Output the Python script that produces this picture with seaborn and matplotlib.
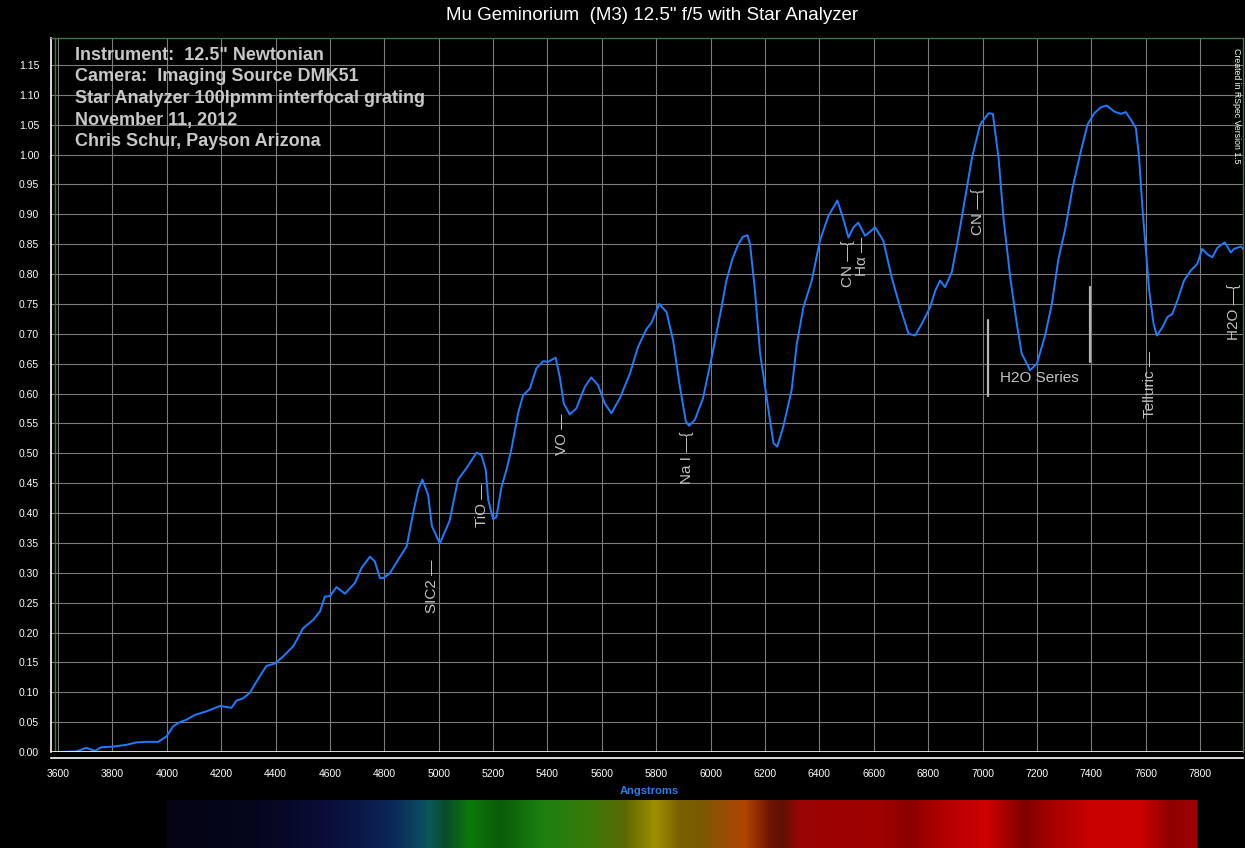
import numpy as np
import pandas as pd
import matplotlib
matplotlib.use('Agg')
import matplotlib.pyplot as plt
import seaborn as sns
from matplotlib.colors import to_rgb

# spectrum (Angstrom, relative flux)
wavelength = [3600, 3667, 3704, 3735, 3760, 3802, 3851, 3888, 3925, 3968,
              3999, 4023, 4048, 4072, 4103, 4146, 4195, 4238, 4256, 4281,
              4305, 4330, 4366, 4397, 4428, 4465, 4501, 4538, 4563, 4581,
              4600, 4624, 4655, 4692, 4716, 4747, 4765, 4784, 4796, 4820,
              4851, 4882, 4906, 4925, 4940, 4961, 4975, 5004, 5040, 5071,
              5102, 5139, 5157, 5173, 5182, 5200, 5212, 5231, 5249, 5267,
              5292, 5310, 5335, 5359, 5384, 5402, 5430, 5445, 5460, 5482,
              5506, 5537, 5561, 5586, 5611, 5635, 5666, 5703, 5733, 5764,
              5782, 5811, 5838, 5862, 5887, 5909, 5921, 5942, 5972, 6009,
              6040, 6058, 6080, 6100, 6118, 6135, 6145, 6163, 6182, 6206,
              6231, 6245, 6267, 6298, 6317, 6341, 6372, 6402, 6433, 6466,
              6488, 6507, 6525, 6543, 6568, 6605, 6635, 6666, 6697, 6728,
              6752, 6777, 6807, 6826, 6844, 6862, 6887, 6911, 6936, 6961,
              6991, 7022, 7038, 7059, 7077, 7102, 7126, 7144, 7175, 7200,
              7230, 7255, 7279, 7304, 7331, 7362, 7386, 7411, 7435, 7457,
              7484, 7509, 7527, 7546, 7564, 7576, 7588, 7601, 7613, 7629,
              7641, 7662, 7680, 7698, 7717, 7741, 7766, 7790, 7808, 7827,
              7845, 7864, 7891, 7913, 7925, 7950, 7962]
flux = [0.000, 0.001, 0.007, 0.002, 0.008, 0.009, 0.012, 0.016, 0.017, 0.017,
        0.026, 0.043, 0.050, 0.054, 0.062, 0.068, 0.077, 0.074, 0.086, 0.090,
        0.099, 0.118, 0.144, 0.148, 0.160, 0.177, 0.207, 0.221, 0.235, 0.260,
        0.261, 0.276, 0.265, 0.283, 0.308, 0.327, 0.319, 0.291, 0.291, 0.299,
        0.322, 0.344, 0.400, 0.440, 0.456, 0.430, 0.378, 0.349, 0.387, 0.456,
        0.475, 0.501, 0.497, 0.472, 0.422, 0.390, 0.393, 0.444, 0.472, 0.506,
        0.567, 0.597, 0.608, 0.642, 0.654, 0.653, 0.660, 0.628, 0.583, 0.565,
        0.575, 0.611, 0.627, 0.614, 0.583, 0.567, 0.592, 0.633, 0.678, 0.708,
        0.718, 0.750, 0.736, 0.689, 0.611, 0.553, 0.546, 0.556, 0.592, 0.672,
        0.744, 0.789, 0.825, 0.848, 0.862, 0.865, 0.850, 0.772, 0.667, 0.594,
        0.517, 0.511, 0.544, 0.606, 0.683, 0.744, 0.789, 0.856, 0.897, 0.923,
        0.892, 0.861, 0.878, 0.886, 0.864, 0.878, 0.856, 0.794, 0.744, 0.700,
        0.697, 0.717, 0.744, 0.772, 0.789, 0.778, 0.803, 0.861, 0.928, 0.994,
        1.050, 1.069, 1.068, 0.994, 0.894, 0.794, 0.717, 0.667, 0.639, 0.650,
        0.697, 0.750, 0.825, 0.875, 0.944, 1.006, 1.050, 1.069, 1.079, 1.082,
        1.072, 1.068, 1.071, 1.058, 1.044, 0.994, 0.911, 0.839, 0.772, 0.717,
        0.697, 0.711, 0.728, 0.733, 0.756, 0.789, 0.806, 0.817, 0.842, 0.833,
        0.828, 0.844, 0.853, 0.836, 0.842, 0.846, 0.840]

# line identifications
line_labels = ['SIC2 —', 'TiO —', 'VO —', 'Na I —{', 'CN —{', 'Hα —',
               'CN —{', 'Telluric —', 'H2O —{']
label_wl = [4975, 5159, 5454, 5913, 6505, 6557, 6984, 7616, 7925]
label_y = [0.277, 0.413, 0.531, 0.492, 0.817, 0.830, 0.904, 0.615, 0.737]

h2o_mark_wl = [7020, 7395]
h2o_mark_lo = [0.596, 0.653]
h2o_mark_hi = [0.723, 0.779]

info_lines = ['Instrument:  12.5" Newtonian',
              'Camera:  Imaging Source DMK51',
              'Star Analyzer 100lpmm interfocal grating',
              'November 11, 2012',
              'Chris Schur, Payson Arizona']

# synthetic colour strip under the chart
strip_wl = [4001, 4343, 4564, 4692, 4821, 4931, 4968, 5023, 5115, 5226,
            5373, 5557, 5685, 5796, 5888, 5961, 6071, 6127, 6219, 6263,
            6329, 6623, 6734, 6844, 7009, 7156, 7230, 7395, 7579, 7690, 7789]
strip_colors = ['#040414', '#06061e', '#0a0c36', '#0a1644', '#0c2658', '#0a4a5e',
                '#0a5a55', '#0a4a2a', '#0a7a0a', '#0a5a0a', '#1a8010', '#3a7a0a',
                '#5a6a05', '#a09000', '#7a6000', '#7a5a00', '#a04a05', '#b04500',
                '#701505', '#601005', '#9a0505', '#a00000', '#8a0000', '#b00000',
                '#d00000', '#800000', '#a00000', '#c80000', '#cc0000', '#900000',
                '#a00000']

sns.set_theme(style='dark')
plt.rcParams['font.family'] = ['Liberation Sans', 'DejaVu Sans']

W, H = 1245, 848
fig = plt.figure(figsize=(W / 100, H / 100), dpi=100, facecolor='black')
ax = fig.add_axes([51 / W, 1 - 752 / H, (1243 - 51) / W, (752 - 38) / H])
ax.set_facecolor('black')

df = pd.DataFrame({'wl': wavelength, 'flux': flux})
sns.lineplot(data=df, x='wl', y='flux', ax=ax, color='#1f7bff', linewidth=1.4,
             zorder=3)

ax.set_xlim(3574, 7958)
ax.set_ylim(0, 1.195)
ax.set_xticks(np.arange(3600, 7801, 200))
ax.set_yticks(np.arange(0, 1.151, 0.05))
ax.yaxis.set_major_formatter(matplotlib.ticker.FormatStrFormatter('%.2f'))
ax.grid(True, color='#7c7c7c', linewidth=0.8)
ax.set_axisbelow(True)
ax.tick_params(colors='white', labelcolor='white', labelsize=7.5,
               length=5, width=1, direction='out')
ax.tick_params(axis='x', pad=3)
ax.set_xlabel('')
ax.set_ylabel('')

for s in ['top', 'right']:
    ax.spines[s].set_color('#3c7a3c')
    ax.spines[s].set_linewidth(1)
ax.spines['left'].set_color('white')
ax.spines['left'].set_linewidth(1.2)
ax.spines['bottom'].set_color('white')
ax.spines['bottom'].set_linewidth(1.2)
ax.spines['bottom'].set_position(('outward', 4.5))
ax.axhline(0, color='white', linewidth=1.2, zorder=4)
ax.axvline(3590, color='#3c7a3c', linewidth=1, zorder=1)

for txt, x, y in zip(line_labels, label_wl, label_y):
    ax.text(x, y, txt, rotation=90, ha='center', va='center',
            color='#c4c4c4', fontsize=11, zorder=5)
for x, lo, hi in zip(h2o_mark_wl, h2o_mark_lo, h2o_mark_hi):
    ax.plot([x, x], [lo, hi], color='#b4b4b4', linewidth=1.6, zorder=5)
ax.text(7064, 0.626, 'H2O Series', ha='left', va='center',
        color='#c4c4c4', fontsize=11, zorder=5)

for i, line in enumerate(info_lines):
    fig.text(75 / W, 1 - (55 + i * 21.7) / H, line, ha='left', va='center',
             color='#c8c8c8', fontsize=13, fontweight='bold')

fig.text(652 / W, 1 - 16 / H, 'Mu Geminorium  (M3) 12.5" f/5 with Star Analyzer',
         ha='center', va='center', color='white', fontsize=13.5)
fig.text(649 / W, 1 - 791 / H, 'Angstroms', ha='center', va='center',
         color='#2f7de8', fontsize=8, fontweight='bold')
fig.text(1237 / W, 1 - 106 / H, 'Created in RSpec Version 1.5', rotation=-90,
         ha='center', va='center', color='white', fontsize=6.3)

# colour strip
ax_strip = fig.add_axes([167 / W, 0, (1197 - 167) / W, 48 / H])
xs = np.linspace(strip_wl[0], strip_wl[-1], 1030)
rgb = np.array([to_rgb(c) for c in strip_colors])
img = np.stack([np.interp(xs, strip_wl, rgb[:, k]) for k in range(3)], axis=-1)
ax_strip.imshow(img[np.newaxis, :, :], aspect='auto', interpolation='bilinear')
ax_strip.set_axis_off()

fig.savefig('out.png', dpi=100, facecolor='black')
